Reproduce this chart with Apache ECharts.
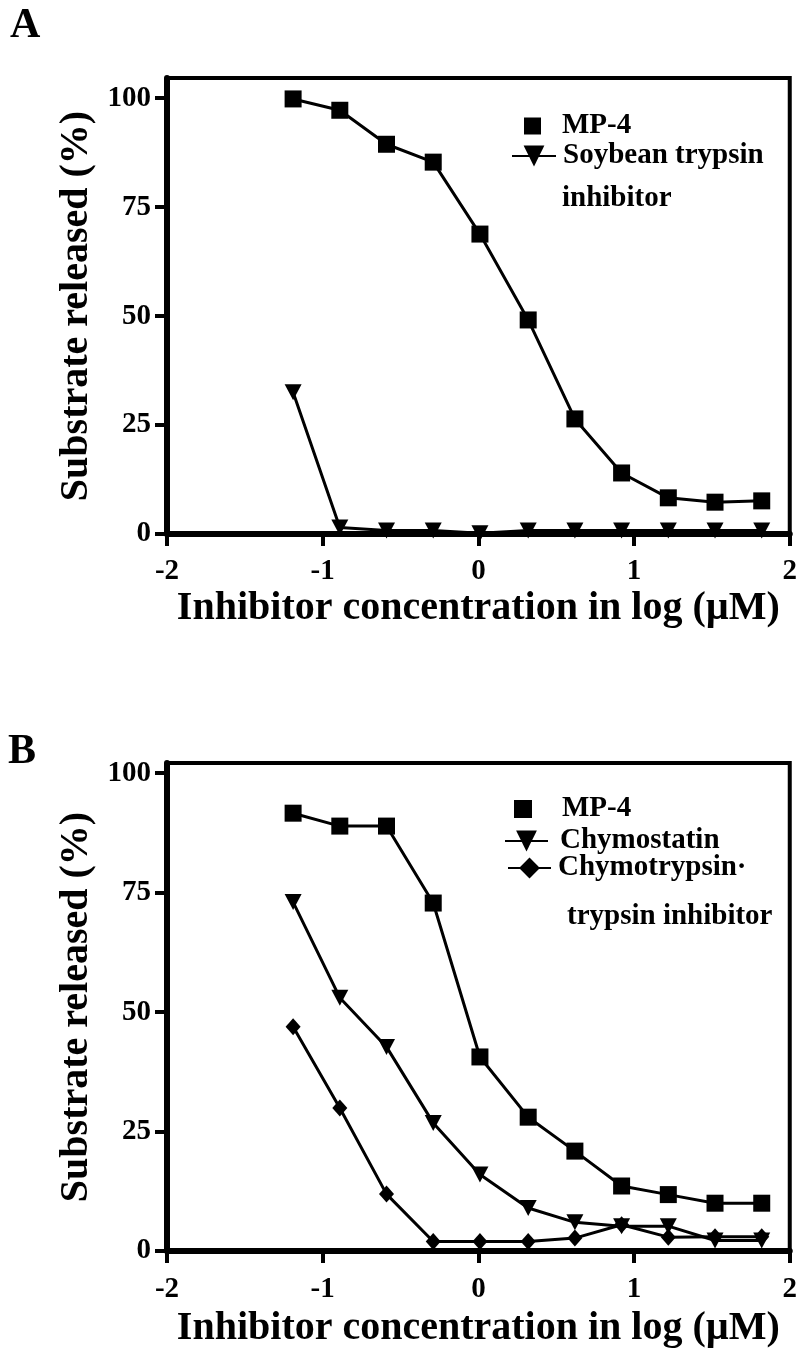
<!DOCTYPE html>
<html><head><meta charset="utf-8">
<script src="https://cdn.jsdelivr.net/npm/echarts@6/dist/echarts.min.js"></script>
<style>html,body{margin:0;padding:0;background:#fff}#c{width:800px;height:1363px}</style>
</head><body><div id="c"></div><script>
// log10 inhibitor concentration (µM)
const logConc = [-1.19, -0.89, -0.59, -0.29, 0.01, 0.32, 0.62, 0.92, 1.22, 1.52, 1.82];
const xTicks = [-2, -1, 0, 1, 2];
const yTicks = [0, 25, 50, 75, 100];
// Panel A
const aMP4 = [99.8, 97.2, 89.4, 85.3, 68.8, 49.1, 26.4, 14.0, 8.3, 7.3, 7.6];
const aSoybean = [32.5, 1.5, 0.8, 0.8, 0.2, 0.8, 0.8, 0.8, 0.8, 0.8, 0.8];
// Panel B
const bMP4 = [91.6, 88.9, 88.9, 72.8, 40.6, 28.0, 20.9, 13.6, 11.8, 10.0, 10.0];
const bChymostatin = [73.0, 53.0, 42.7, 26.8, 16.0, 9.0, 6.0, 5.2, 5.2, 2.2, 2.2];
const bCTI = [46.9, 29.9, 11.9, 2.0, 2.0, 2.0, 2.7, 5.5, 2.9, 3.0, 3.0];

const F = '"Liberation Serif", "Times New Roman", serif';
const pairs = ys => logConc.map((x, i) => [x, ys[i]]);

function xAx(gridIndex, labelMargin, nameGap) {
  return {
    type: 'value', gridIndex, min: -2, max: 2, interval: 1,
    axisLine: { show: true, onZero: false, lineStyle: { color: '#000', width: 6 } },
    axisTick: { show: true, inside: false, length: 12, lineStyle: { color: '#000', width: 4 }, customValues: xTicks },
    axisLabel: { customValues: xTicks, margin: labelMargin, color: '#000', fontFamily: F, fontWeight: 'bold', fontSize: 29,
      formatter: v => String(v) },
    splitLine: { show: false },
    name: 'Inhibitor concentration in log (µM)', nameLocation: 'middle', nameGap,
    nameTextStyle: { color: '#000', fontFamily: F, fontWeight: 'bold', fontSize: 40 }
  };
}
function yAx(gridIndex, max) {
  return {
    type: 'value', gridIndex, min: 0, max,
    axisLine: { show: true, onZero: false, lineStyle: { color: '#000', width: 6 } },
    axisTick: { show: true, inside: false, length: 12, lineStyle: { color: '#000', width: 4 }, customValues: yTicks },
    axisLabel: { customValues: yTicks, margin: 16, color: '#000', fontFamily: F, fontWeight: 'bold', fontSize: 29 },
    splitLine: { show: false },
    name: 'Substrate released (%)', nameLocation: 'middle', nameGap: 62,
    nameTextStyle: { color: '#000', fontFamily: F, fontWeight: 'bold', fontSize: 40 }
  };
}
function ser(name, data, idx, symbol, size, rot) {
  return {
    type: 'line', name, data: pairs(data), xAxisIndex: idx, yAxisIndex: idx,
    symbol, symbolSize: size, symbolRotate: rot || 0,
    lineStyle: { color: '#000', width: 3 }, itemStyle: { color: '#000' },
    z: 3, animation: false
  };
}
function leg(name, left, top, iw, ih, padLeft, icon) {
  const d = icon ? { name, icon } : { name };
  return {
    data: [d], left, top, padding: 0, orient: 'vertical', itemWidth: iw, itemHeight: ih,
    selectedMode: false,
    textStyle: { color: '#000', fontFamily: F, fontWeight: 'bold', fontSize: 29, lineHeight: 30, padding: [0, 0, 0, padLeft] }
  };
}

const chart = echarts.init(document.getElementById('c'), null, { renderer: 'canvas' });
chart.setOption({
  backgroundColor: '#fff',
  animation: false,
  title: [
    { text: 'A', left: 5, top: 0, textStyle: { fontFamily: F, fontWeight: 'bold', fontSize: 42, color: '#000' } },
    { text: 'B', left: 3, top: 726, textStyle: { fontFamily: F, fontWeight: 'bold', fontSize: 42, color: '#000' } }
  ],
  grid: [
    { left: 167, top: 78, width: 627, height: 456, show: true, borderColor: '#000', borderWidth: 4, backgroundColor: 'transparent' },
    { left: 167, top: 763, width: 627, height: 488, show: true, borderColor: '#000', borderWidth: 4, backgroundColor: 'transparent' }
  ],
  xAxis: [xAx(0, 23, 55), xAx(1, 24, 58)],
  yAxis: [yAx(0, 104.6), yAx(1, 102.1)],
  legend: [
    leg('MP-4', 524, 111, 17, 17, 16, 'rect'),
    leg('Soybean trypsin', 511, 141, 44, 26, 2),
    leg('MP-4', 514, 794, 18, 18, 25, 'rect'),
    leg('Chymostatin', 504, 826, 43, 26, 7),
    leg('Chymotrypsin·', 507, 853, 43, 26, 2)
  ],
  graphic: [
    { type: 'text', left: 562, top: 184, style: { text: 'inhibitor', font: 'bold 29px ' + F, fill: '#000' } },
    { type: 'text', left: 567, top: 902, style: { text: 'trypsin inhibitor', font: 'bold 29px ' + F, fill: '#000' } }
  ],
  series: [
    ser('MP-4', aMP4, 0, 'rect', 17),
    ser('Soybean trypsin', aSoybean, 0, 'triangle', [17, 16], 180),
    ser('MP-4', bMP4, 1, 'rect', 17),
    ser('Chymostatin', bChymostatin, 1, 'triangle', [17, 16], 180),
    ser('Chymotrypsin·', bCTI, 1, 'diamond', [15, 17])
  ]
});
</script></body></html>
